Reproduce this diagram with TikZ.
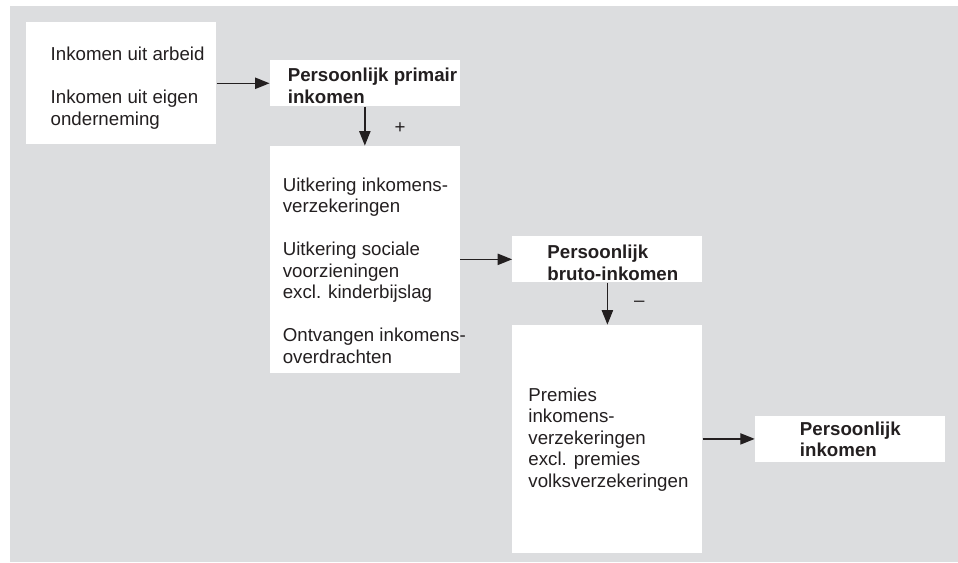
\documentclass[tikz,border=0pt]{standalone}
\usepackage{fontspec}
\setmainfont{Liberation Sans}
\usepackage{tikz}
\usetikzlibrary{positioning, arrows.meta}

\definecolor{vlak}{RGB}{220,221,223}
\definecolor{inkt}{RGB}{35,31,32}

\begin{document}
\begin{tikzpicture}[
    blok/.style={
        rectangle,
        fill=white,
        minimum width=47.5mm,
        inner sep=0
    },
    tekst/.style={
        align=left,
        inner sep=0,
        text=inkt,
        font=\fontsize{13.3pt}{15.3pt}\selectfont
    },
    kop/.style={
        tekst,
        font=\fontsize{13.3pt}{15.3pt}\selectfont\bfseries
    },
    teken/.style={
        inner sep=0,
        text=inkt,
        font=\fontsize{13.3pt}{15.3pt}\selectfont
    },
    pijl/.style={-{Triangle[length=3.6mm,width=2.8mm]}, line width=1pt, draw=inkt}
]

% Achtergrond
\useasboundingbox (0,0) rectangle (239.5mm,-140.5mm);
\fill[vlak] (2.5mm,-1.5mm) rectangle (239.5mm,-140.5mm);

% Bronnen van primair inkomen
\node[blok, minimum height=30.5mm, anchor=north west] (bron) at (6.5mm,-5.5mm) {};
\node[tekst, below right=6.2mm and 6.1mm of bron.north west] (bronTxt) {%
    Inkomen uit arbeid\\[5.375mm]
    Inkomen uit eigen\\
    onderneming
};

% Persoonlijk primair inkomen
\node[blok, minimum height=11.5mm, right=13.25mm of bron] (primair) {};
\node[kop, below right=1.95mm and 4.5mm of primair.north west] (primairTxt) {%
    Persoonlijk primair\\
    inkomen
};

% Uitkeringen en overdrachten
\node[blok, minimum height=56.75mm, below=9.75mm of primair] (uitkering) {};
\node[tekst, below right=7.95mm and 3.25mm of uitkering.north west] (uitkeringTxt) {%
    Uitkering inkomens-\\
    verzekeringen\\[5.375mm]
    Uitkering sociale\\
    voorzieningen\\
    excl. kinderbijslag\\[5.375mm]
    Ontvangen inkomens-\\
    overdrachten
};

% Persoonlijk bruto-inkomen
\node[blok, minimum height=11.5mm, right=13mm of uitkering] (bruto) {};
\node[kop, below right=2.2mm and 8.75mm of bruto.north west] (brutoTxt) {%
    Persoonlijk\\
    bruto-inkomen
};

% Premies
\node[blok, minimum height=57mm, below=10.5mm of bruto] (premies) {};
\node[tekst, below right=15.7mm and 4mm of premies.north west] (premiesTxt) {%
    Premies\\
    inkomens-\\
    verzekeringen\\
    excl. premies\\
    volksverzekeringen
};

% Persoonlijk inkomen
\node[blok, minimum height=11.5mm, right=13mm of premies] (persinkomen) {};
\node[kop, below right=1.45mm and 11.25mm of persinkomen.north west] (persinkomenTxt) {%
    Persoonlijk\\
    inkomen
};

% Pijlen
\draw[pijl] (bron) -- (primair);
\draw[pijl] (primair) -- (uitkering)
  node[teken, midway, right=7.25mm, yshift=-0.6mm]{+};
\draw[pijl] (uitkering) -- (bruto);
\draw[pijl] (bruto) -- (premies)
  node[teken, midway, right=6.5mm]{–};
\draw[pijl] (premies) -- (persinkomen);

\end{tikzpicture}
\end{document}
